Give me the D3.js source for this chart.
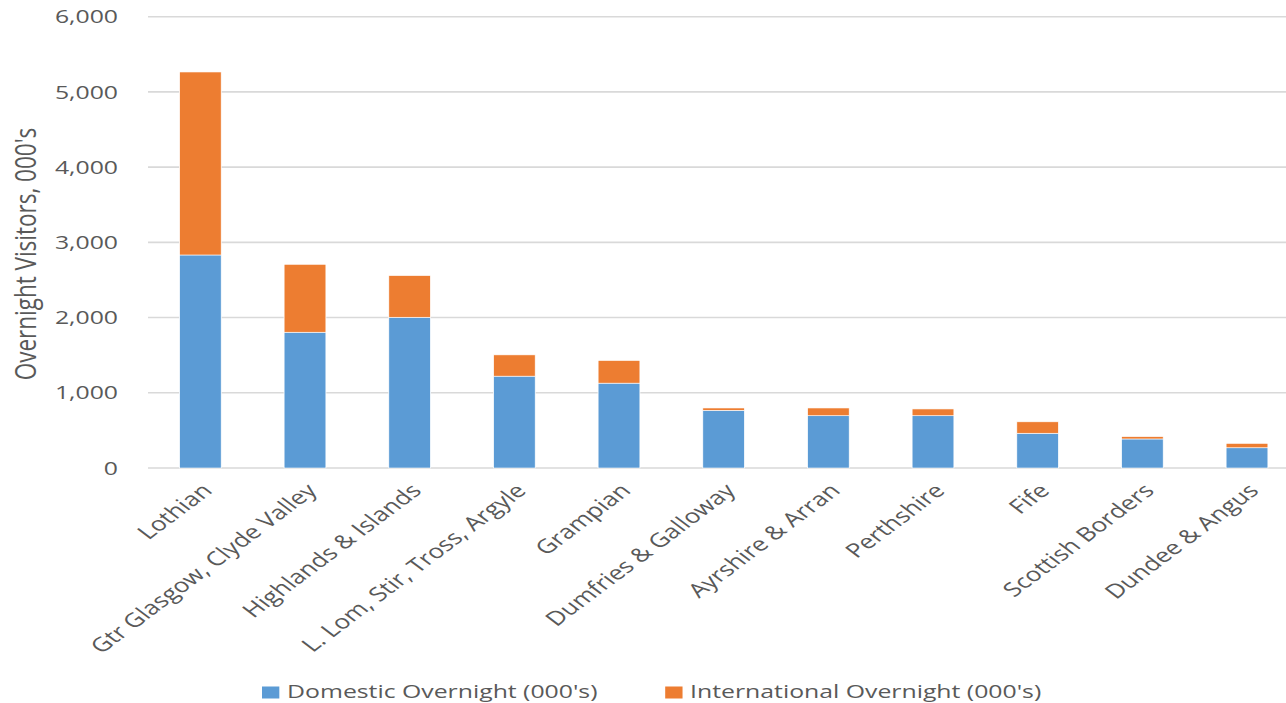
<!DOCTYPE html>
<html>
<head>
<meta charset="utf-8">
<script src="https://cdn.jsdelivr.net/npm/d3@7"></script>
<style>
    html, body { margin: 0; padding: 0; background: #fff; }
    svg { display: block; }
    text { font-family: "Open Sans", sans-serif; fill: #595959; }
</style>
</head>
<body>
<div id="chart_parent"></div>
<script>
const categories = [
    'Lothian', 'Gtr Glasgow, Clyde Valley', 'Highlands & Islands', 'L. Lom, Stir, Tross, Argyle',
    'Grampian', 'Dumfries & Galloway', 'Ayrshire & Arran', 'Perthshire', 'Fife',
    'Scottish Borders', 'Dundee & Angus',
];
const domestic = [2832, 1805, 2004, 1221, 1128, 767, 695, 695, 462, 386, 269];
const international = [2433, 903, 554, 283, 301, 31, 103, 90, 152, 31, 58];
const seriesNames = ["Domestic Overnight (000's)", "International Overnight (000's)"];
const yTicks = [0, 1000, 2000, 3000, 4000, 5000, 6000];
const yTitle = "Overnight Visitors, 000's";

// the source picture is stretched sideways, so draw in a narrower box and let the viewBox stretch it
const chartConfig = {
    outerWidth: 1286,
    outerHeight: 703,
    stretchX: 4 / 3,
    plotLeft: 111,
    plotRight: 974.5,
    plotTop: 16.7,
    plotBottom: 468,
    colors: ['#5b9bd5', '#ed7d31'],
};

function initialiseChart(rootSelector, config) {
    const vbWidth = config.outerWidth / config.stretchX;
    return d3.select(rootSelector).append('svg')
        .attr('width', config.outerWidth)
        .attr('height', config.outerHeight)
        .attr('viewBox', `0 0 ${vbWidth} ${config.outerHeight}`)
        .attr('preserveAspectRatio', 'none');
}

function drawChart(svg, config) {
    const vbWidth = config.outerWidth / config.stretchX;

    const xScale = d3.scaleBand()
        .domain(categories)
        .range([config.plotLeft, config.plotRight])
        .paddingInner(0.6)
        .paddingOuter(0.3);

    const yScale = d3.scaleLinear()
        .domain([0, 6000])
        .range([config.plotBottom, config.plotTop]);

    // gridlines
    svg.append('g').selectAll('line').data(yTicks).enter()
        .append('line')
        .attr('x1', config.plotLeft)
        .attr('x2', vbWidth)
        .attr('y1', d => yScale(d))
        .attr('y2', d => yScale(d))
        .attr('stroke', '#d9d9d9')
        .attr('stroke-width', 1.6);

    // y tick labels
    svg.append('g').selectAll('text').data(yTicks).enter()
        .append('text')
        .attr('x', 88.5)
        .attr('y', d => yScale(d))
        .attr('dy', '0.36em')
        .attr('text-anchor', 'end')
        .style('font-size', '18.6px')
        .text(d => d3.format(',')(d));

    // stacked bars
    const rows = categories.map((c, i) => ({ cat: c, dom: domestic[i], intl: international[i] }));
    const stacked = d3.stack().keys(['dom', 'intl'])(rows);

    svg.append('g').selectAll('g').data(stacked).enter()
        .append('g')
        .attr('fill', (d, i) => config.colors[i])
        .selectAll('rect').data(d => d).enter()
        .append('rect')
        .attr('x', d => xScale(d.data.cat))
        .attr('width', xScale.bandwidth())
        .attr('y', d => yScale(d[1]))
        .attr('height', d => yScale(d[0]) - yScale(d[1]))
        .attr('stroke', '#fff')
        .attr('stroke-width', 0.6);

    // category labels
    svg.append('g').selectAll('text').data(categories).enter()
        .append('text')
        .attr('transform', d => `translate(${xScale(d) + xScale.bandwidth() / 2 + 5},${487}) rotate(-45)`)
        .attr('text-anchor', 'end')
        .attr('dy', '0.35em')
        .style('font-size', '19.6px')
        .text(d => d);

    // axis title
    svg.append('text')
        .attr('transform', 'translate(19,254) rotate(-90)')
        .attr('text-anchor', 'middle')
        .attr('dy', '0.35em')
        .style('font-size', '22.5px')
        .text(yTitle);

    // legend
    const legendX = [[196.5, 215.3], [498.9, 517.6]];
    const legend = svg.append('g').selectAll('g').data(seriesNames).enter()
        .append('g');
    legend.append('rect')
        .attr('x', (d, i) => legendX[i][0])
        .attr('y', 686.5)
        .attr('width', 13)
        .attr('height', 12)
        .attr('fill', (d, i) => config.colors[i]);
    legend.append('text')
        .attr('x', (d, i) => legendX[i][1])
        .attr('y', 698.5)
        .style('font-size', '18.6px')
        .text(d => d);
}

const svg = initialiseChart('#chart_parent', chartConfig);
drawChart(svg, chartConfig);
</script>
</body>
</html>
